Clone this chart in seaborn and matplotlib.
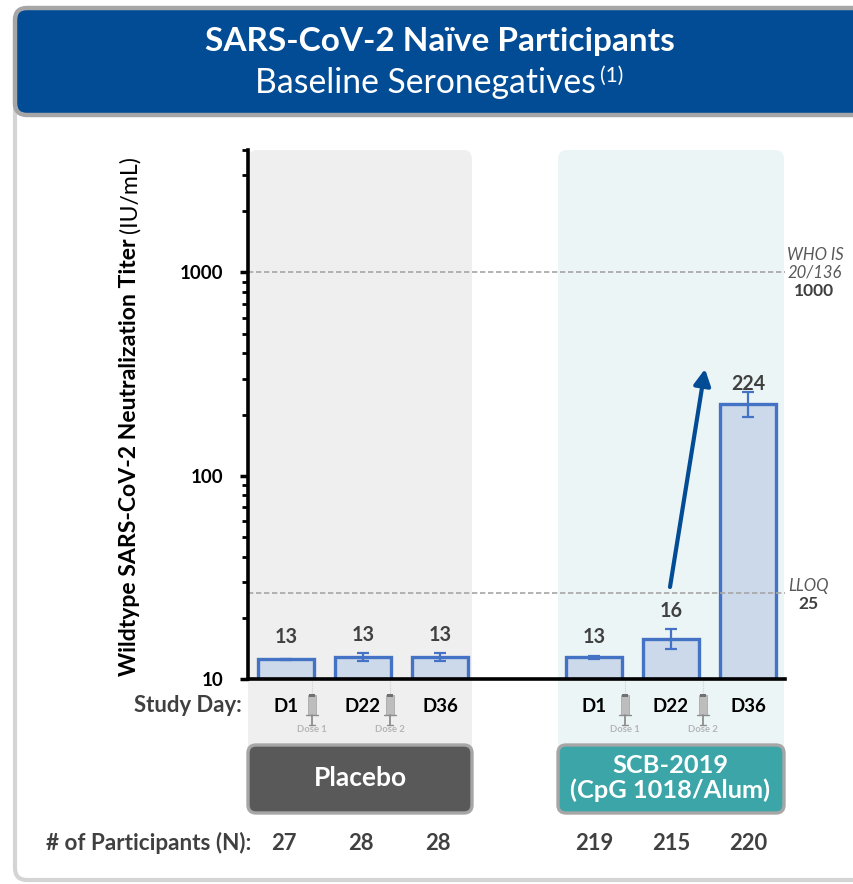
import matplotlib
matplotlib.use("Agg")
import matplotlib.pyplot as plt
from matplotlib.patches import FancyBboxPatch, Rectangle
from matplotlib.ticker import LogLocator, NullFormatter, FixedFormatter, FixedLocator
import numpy as np
import pandas as pd
import seaborn as sns

groups = ["P-D1", "P-D22", "P-D36", "gap", "S-D1", "S-D22", "S-D36"]
day_labels = ["D1", "D22", "D36", "", "D1", "D22", "D36"]
titers = [12.5, 12.8, 12.8, np.nan, 12.8, 15.7, 224]
err_low = [12.45, 12.3, 12.3, np.nan, 12.6, 14.0, 194]
err_high = [12.55, 13.4, 13.4, np.nan, 13.0, 17.6, 259]
value_labels = ["13", "13", "13", "", "13", "16", "224"]
n_labels = ["27", "28", "28", "", "219", "215", "220"]
who_level = 1000
lloq_level = 26.4
y_floor = 10

BLUE = "#024C96"
BAR_EDGE = "#4472C4"
BAR_FILL = "#CBD9EA"
DARK = "#404040"
GREY = "#A6A6A6"

sns.set_theme(style="white")
plt.rcParams["font.family"] = ["Lato", "DejaVu Sans"]

W, H = 854, 884
fig = plt.figure(figsize=(W / 100, H / 100), dpi=100, facecolor="white")

bg = fig.add_axes([0, 0, 1, 1], zorder=0)
bg.set_xlim(0, W); bg.set_ylim(H, 0); bg.axis("off")

def box(ax, x0, y0, x1, y1, fc, ec="none", lw=0, r=10, z=1):
    p = FancyBboxPatch((x0 + r, y0 + r), x1 - x0 - 2 * r, y1 - y0 - 2 * r,
                       boxstyle=f"round,pad={r},rounding_size={r}",
                       fc=fc, ec=ec, lw=lw, zorder=z)
    ax.add_patch(p)

box(bg, 15, 30, 900, 880, "white", "#D4D4D4", 3, 12, 1)
box(bg, 15, 8, 900, 115, BLUE, GREY, 3.2, 12, 2)
box(bg, 248, 150, 472, 760, "#EFEFEF", r=9)
box(bg, 558, 150, 784, 760, "#ECF5F6", r=9)

ax = fig.add_axes([248 / W, 1 - 679 / H, (785 - 248) / W, (679 - 150) / H], zorder=2)
ax.patch.set_alpha(0)
df = pd.DataFrame({"group": groups, "titer": titers})
sns.barplot(data=df, x="group", y="titer", order=groups, ax=ax, width=0.72,
            color=BAR_FILL, saturation=1, edgecolor=BAR_EDGE, linewidth=2.4,
            errorbar=None, log_scale=(False, True), zorder=2)
# log axis: bars start from the axis floor rather than from zero
for p in ax.patches:
    top = p.get_y() + p.get_height()
    if np.isfinite(top):
        p.set_y(y_floor)
        p.set_height(top - y_floor)

label_offsets_px = [22, 18, 18, 0, 19, 18, 8]
for i, (v, lo, hi, lab) in enumerate(zip(titers, err_low, err_high, value_labels)):
    if not lab:
        continue
    ax.errorbar(i, v, yerr=[[v - lo], [hi - v]], color=BAR_EDGE, lw=1.6,
                capsize=4.5, capthick=1.6, zorder=3)
    ax.annotate(lab, (i, hi), xytext=(0, label_offsets_px[i] * 0.72), textcoords="offset points",
                ha="center", va="center", fontsize=14.2, fontweight="bold", color=DARK, zorder=5)
ax.axhline(who_level, color=GREY, lw=1.2, ls=(0, (3.2, 1.6)), zorder=4)
ax.axhline(lloq_level, color=GREY, lw=1.2, ls=(0, (3.2, 1.6)), zorder=4)
ax.set_xlim(-0.494, 6.48)
ax.set_ylim(10, 4000)
ax.set_xlabel(""); ax.set_ylabel("")
ax.set_xticks(range(len(groups)))
ax.set_xticklabels([])
ax.tick_params(axis="x", length=0)
ax.yaxis.set_major_locator(FixedLocator([10, 100, 1000]))
ax.yaxis.set_major_formatter(FixedFormatter(["10", "100", "1000"]))
ax.yaxis.set_minor_locator(LogLocator(base=10, subs=np.arange(2, 10), numticks=12))
ax.yaxis.set_minor_formatter(NullFormatter())
ax.tick_params(axis="y", which="major", length=6, width=2.5, color="black", left=True, pad=12)
ax.tick_params(axis="y", which="minor", length=4.5, width=2, color="black", left=True)
for t in ax.get_yticklabels():
    t.set_fontsize(13.5); t.set_fontweight("bold"); t.set_color("black")
for s in ["top", "right"]:
    ax.spines[s].set_visible(False)
for s in ["left", "bottom"]:
    ax.spines[s].set_visible(True)
    ax.spines[s].set_color("black")
    ax.spines[s].set_linewidth(2.6)
    ax.spines[s].set_zorder(6)

fg = fig.add_axes([0, 0, 1, 1], zorder=3)
fg.set_xlim(0, W); fg.set_ylim(H, 0); fg.axis("off")

fg.text(440, 42, "SARS-CoV-2 Naïve Participants", color="white", fontsize=24,
        fontweight="bold", ha="center", va="center")
fg.text(425, 83, "Baseline Seronegatives", color="white", fontsize=24.3, ha="center", va="center")
fg.text(612, 76, "(1)", color="white", fontsize=15, ha="center", va="center")

yl = fg.text(130, 676, "Wildtype SARS-CoV-2 Neutralization Titer ", rotation=90, ha="center",
             va="bottom", fontsize=16.6, fontweight="bold", color="black")
fg.annotate("(IU/mL)", xy=(0.5, 1.0), xycoords=yl, rotation=90, ha="center", va="bottom",
            fontsize=16.6, color="black")

fg.text(188, 706, "Study Day:", fontsize=15.9, fontweight="bold", color=DARK, ha="center", va="center")
fg.text(148.5, 843, "# of Participants (N):", fontsize=16.2, fontweight="bold", color=DARK, ha="center", va="center")

bar_px = lambda i: 286 + 77 * i
for i, lab in enumerate(day_labels):
    if not lab:
        continue
    fg.text(bar_px(i), 707, lab, fontsize=13.5, fontweight="bold", color="black", ha="center", va="center")
    fg.text(bar_px(i) - 2 if i < 3 else bar_px(i), 843, n_labels[i], fontsize=15.8,
            fontweight="bold", color=DARK, ha="center", va="center")

def syringe(x, label):
    c = "#BDBDBD"
    fg.plot([x, x], [681, 694], color="#CFCFCF", lw=0.8, ls=(0, (1, 1)))
    fg.add_patch(Rectangle((x - 4, 695), 8, 20, fc=c, ec="#A9A9A9", lw=0.6))
    fg.add_patch(Rectangle((x - 3, 694), 6, 3, fc="#707070", ec="none"))
    fg.plot([x - 6, x + 6], [715, 715], color="#8C8C8C", lw=1)
    fg.plot([x, x], [715, 725], color="#8C8C8C", lw=1.3)
    fg.plot([x - 3, x + 3], [725, 725], color="#8C8C8C", lw=1)
    fg.text(x, 730, label, fontsize=6.8, fontweight="bold", color="#B5B5B5", ha="center", va="center")

for x, lab in [(312, "Dose 1"), (390, "Dose 2"), (625, "Dose 1"), (703, "Dose 2")]:
    syringe(x, lab)

box(fg, 248, 745, 472, 813, "#595959", GREY, 2.4, 8, 2)
box(fg, 558, 745, 784, 813, "#3BA5A8", GREY, 2.4, 8, 2)
fg.text(360, 778, "Placebo", color="white", fontsize=19, fontweight="bold", ha="center", va="center")
fg.text(670, 778, "SCB-2019\n(CpG 1018/Alum)", color="white", fontsize=18.3, fontweight="bold",
        ha="center", va="center", linespacing=1.1)

fg.annotate("", xy=(705, 369), xytext=(670, 587),
            arrowprops=dict(arrowstyle="-|>,head_width=0.42,head_length=0.8", color=BLUE, lw=3,
                            shrinkA=0, shrinkB=0))

fg.text(815, 255, "WHO IS", fontsize=12, style="italic", color="#595959", ha="center", va="center")
fg.text(815, 273, "20/136", fontsize=12, style="italic", color="#595959", ha="center", va="center")
fg.text(814, 291, "1000", fontsize=12.5, fontweight="bold", color=DARK, ha="center", va="center")
fg.text(808, 586, "LLOQ", fontsize=12, style="italic", color="#595959", ha="center", va="center")
fg.text(808, 604, "25", fontsize=12.5, fontweight="bold", color=DARK, ha="center", va="center")

fig.savefig("out.png", dpi=100, facecolor="white")
